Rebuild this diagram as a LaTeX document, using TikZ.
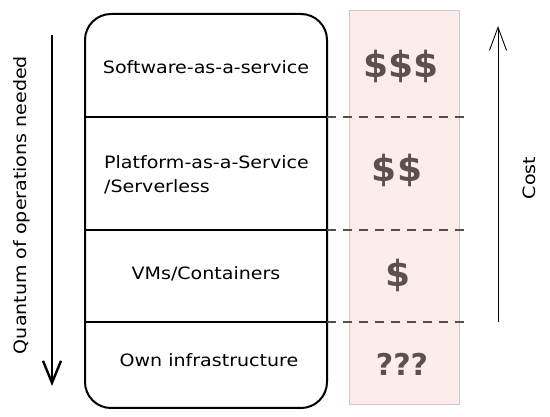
\documentclass[tikz,border=0pt]{standalone}
\usepackage{fontspec}
\setmainfont{DejaVu Sans}
\newfontfamily\hand[FakeStretch=1.12]{DejaVu Sans}
\usetikzlibrary{arrows.meta}
\definecolor{pinkfill}{HTML}{FDECEC}
\definecolor{pinkedge}{HTML}{D6C6C6}
\definecolor{money}{HTML}{5B4F4F}
\definecolor{dashc}{HTML}{574D4D}
\begin{document}
\begin{tikzpicture}[x=1pt,y=-1pt,
  lbl/.style={font=\hand\fontsize{17}{24}\selectfont, text=black, inner sep=0pt},
  costlbl/.style={font=\bfseries\fontsize{36}{38}\selectfont, text=money, inner sep=0pt},
  divider/.style={line width=1.6pt},
  dashline/.style={dash pattern=on 9pt off 7pt, line width=1.6pt, draw=dashc},
  bigarrow/.style={line width=2.4pt, -{Straight Barb[length=22pt,width=18pt,line width=2.4pt]}},
  thinarrow/.style={line width=0.9pt, -{Straight Barb[length=23pt,width=17pt,line width=0.9pt]}}]
\useasboundingbox (0,0) rectangle (550,417);
% pink cost column
\path[fill=pinkfill, draw=pinkedge, line width=0.8pt] (349,10) rectangle (459,404);
% main box
\draw[line width=2pt, rounded corners=26pt] (85,14) rectangle (327,408);
% divider coordinates
\coordinate (l1) at (85,117);  \coordinate (r1) at (327,117);  \coordinate (e1) at (470,117);
\coordinate (l2) at (85,230);  \coordinate (r2) at (327,230);  \coordinate (e2) at (470,230);
\coordinate (l3) at (85,322);  \coordinate (r3) at (327,322);  \coordinate (e3) at (470,322);
\draw[divider, line width=2.4pt] (l1) -- (r1);
\draw[divider] (l2) -- (r2);
\draw[divider] (l3) -- (r3);
\draw[dashline] (r1) -- (e1);
\draw[dashline] (r2) -- (e2);
\draw[dashline] (r3) -- (e3);
% labels
\node[lbl] (saas) at (206,67) {Software-as-a-service};
\node[lbl, anchor=west, align=left] (paas) at (104,175) {Platform-as-a-Service\\/Serverless};
\node[lbl] (vms) at (206,274) {VMs/Containers};
\node[lbl] (own) at (209,360) {Own infrastructure};
% costs
\node[costlbl] (c3) at (401,66) {\$\$\$};
\node[costlbl] (c2) at (397,170) {\$\$};
\node[costlbl] (c1) at (398,275) {\$};
\node[costlbl, font=\bfseries\fontsize{30}{32}\selectfont] (c0) at (402,364) {???};
% arrows
\coordinate (qtop) at (52,35);
\coordinate (qbot) at (52,386);
\draw[bigarrow] (qtop) -- (qbot);
\node[lbl, rotate=90] (qlbl) at (22,205) {Quantum of operations needed};
\coordinate (cbot) at (498,322);
\coordinate (ctop) at (498,26);
\draw[thinarrow] (cbot) -- (ctop);
\node[lbl, rotate=90] (costtxt) at (529,178) {Cost};
\end{tikzpicture}
\end{document}
